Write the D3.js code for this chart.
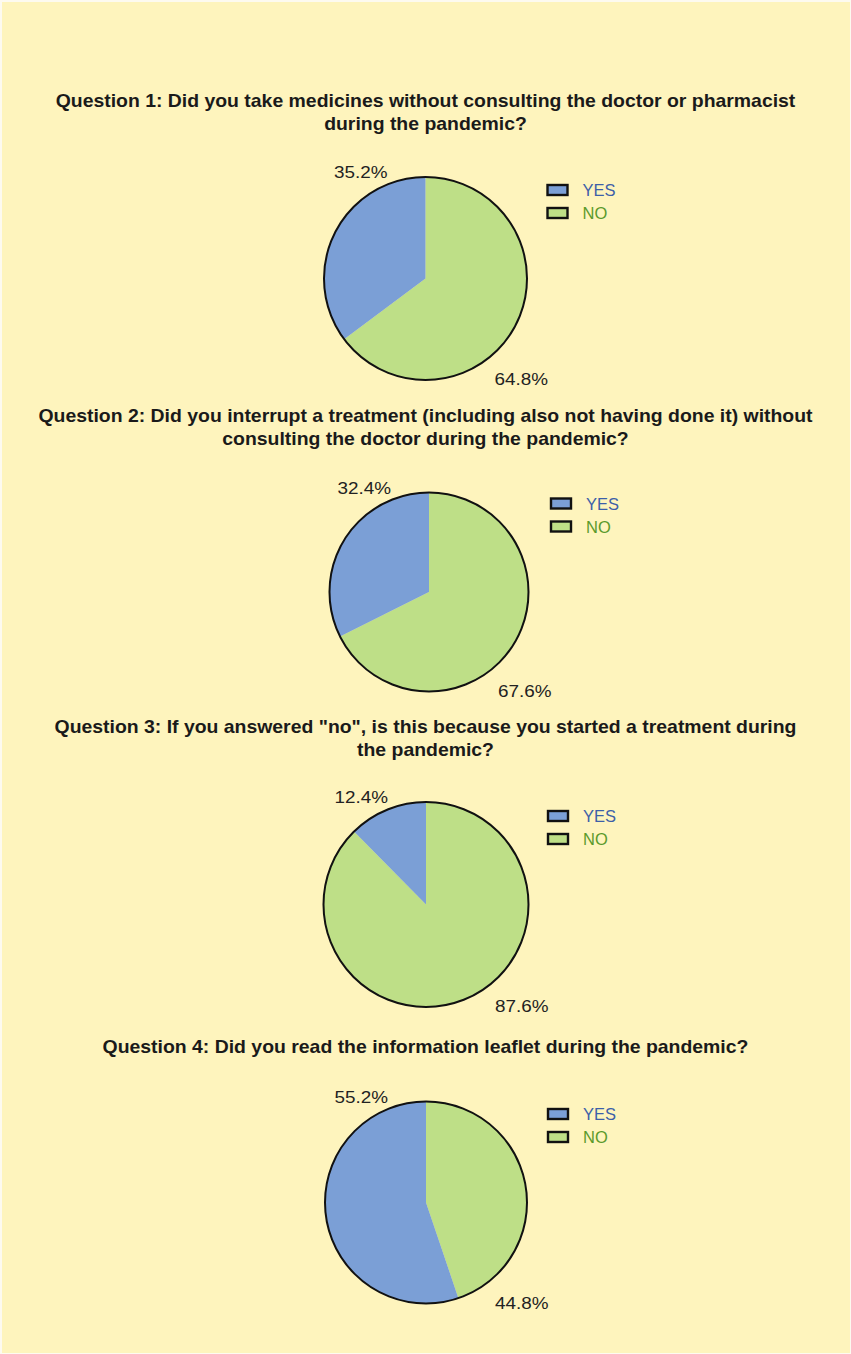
<!DOCTYPE html>
<html>
<head>
<meta charset="utf-8">
<script src="https://cdn.jsdelivr.net/npm/d3@7"></script>
<style>
  html, body { margin: 0; padding: 0; background: #fdfaf0; }
  svg { display: block; }
</style>
</head>
<body>
<div id="chart"></div>
<script>
// data
var titles = [
  ["Question 1: Did you take medicines without consulting the doctor or pharmacist", "during the pandemic?"],
  ["Question 2: Did you interrupt a treatment (including also not having done it) without", "consulting the doctor during the pandemic?"],
  ["Question 3: If you answered \"no\", is this because you started a treatment during", "the pandemic?"],
  ["Question 4: Did you read the information leaflet during the pandemic?"]
];
var categories = ["YES", "NO"];
var yesValues = [35.2, 32.4, 12.4, 55.2];
var noValues = [64.8, 67.6, 87.6, 44.8];

var width = 851, height = 1354;
var stretch = 1.11; // the figure's font is a bit wider than Arial

// layout: pie centres and first title line position
var panels = [
  { cx: 425.5, cy: 278.5, r: 101.5, titleY: 107 },
  { cx: 429, cy: 592, r: 99.5, titleY: 422 },
  { cx: 426, cy: 904.5, r: 102.5, titleY: 733 },
  { cx: 426, cy: 1202.5, r: 101, titleY: 1053 }
];

var color = d3.scaleOrdinal()
  .domain(categories)
  .range(["#7b9fd6", "#bedf87"]);

var textColor = d3.scaleOrdinal()
  .domain(categories)
  .range(["#3d5fa8", "#5b9a2c"]);

var svg = d3.select('#chart').append('svg')
  .attr('width', width)
  .attr('height', height)

svg.append('rect')
  .attr('x', 2)
  .attr('y', 2)
  .attr('width', width - 3)
  .attr('height', height - 3)
  .attr('fill', '#fef4bd')

var pie = d3.pie()
  .sort(null)
  .value(function(d) { return d.value })

var arc = d3.arc().innerRadius(0)

function wideText(sel, x, y, k) {
  return sel.append('text')
    .attr('transform', 'translate(' + x + ',' + y + ') scale(' + (k || stretch) + ',1)')
    .attr('font-family', 'Liberation Sans, Arial, sans-serif')
}

panels.forEach(function(p, i) {
  var g = svg.append('g')

  // title
  var t = wideText(g, width / 2, p.titleY)
    .attr('text-anchor', 'middle')
    .attr('font-weight', 'bold')
    .attr('font-size', '17.5px')
    .attr('fill', '#1a1a1a')
  titles[i].forEach(function(line, j) {
    t.append('tspan')
      .attr('x', 0)
      .attr('dy', j === 0 ? 0 : 23)
      .text(line)
  })

  // pie: NO runs clockwise from 12 o'clock, YES fills the remainder
  var slices = [
    { key: "NO", value: noValues[i] },
    { key: "YES", value: yesValues[i] }
  ];
  var pg = g.append('g')
    .attr('transform', 'translate(' + p.cx + ',' + p.cy + ')')

  pg.selectAll('path')
    .data(pie(slices))
    .enter().append('path')
    .attr('d', arc.outerRadius(p.r))
    .attr('fill', function(d) { return color(d.data.key) })

  pg.append('circle')
    .attr('r', p.r)
    .attr('fill', 'none')
    .attr('stroke', '#111')
    .attr('stroke-width', 2)

  // percentage labels
  wideText(g, p.cx - 38, p.cy - p.r + 1)
    .attr('text-anchor', 'end')
    .attr('font-size', '17px')
    .attr('fill', '#222')
    .text(yesValues[i].toFixed(1) + '%')

  wideText(g, p.cx + 69, p.cy + p.r + 5)
    .attr('font-size', '17px')
    .attr('fill', '#222')
    .text(noValues[i].toFixed(1) + '%')

  // legend
  var lg = g.append('g')
    .attr('transform', 'translate(' + (p.cx + 122) + ',' + (p.cy - 93) + ')')
  categories.forEach(function(c, k) {
    lg.append('rect')
      .attr('x', 0)
      .attr('y', k * 23 - 0.5)
      .attr('width', 20)
      .attr('height', 10)
      .attr('fill', color(c))
      .attr('stroke', '#111')
      .attr('stroke-width', 2.4)
    wideText(lg, 35, k * 23 + 10.5, 1.0)
      .attr('font-size', '16.5px')
      .attr('fill', textColor(c))
      .text(c)
  })
})
</script>
</body>
</html>
